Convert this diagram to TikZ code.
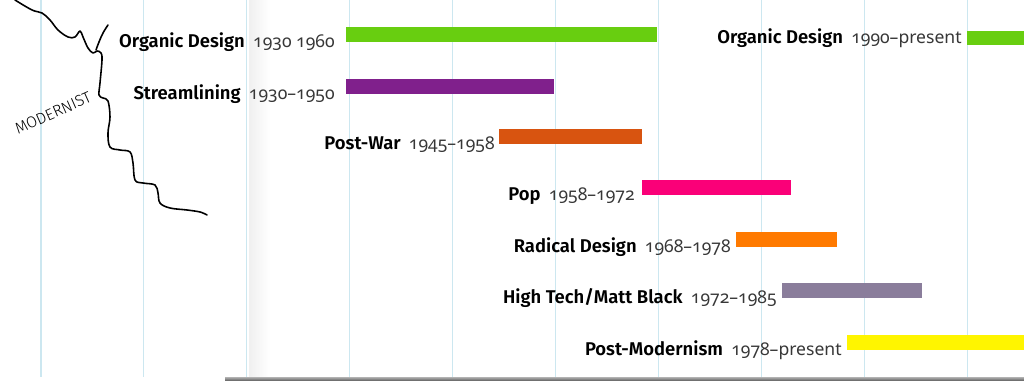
\documentclass[tikz,border=0pt]{standalone}
\usepackage{fontspec}
\setmainfont{Fira Sans}[BoldFont={Fira Sans SemiBold}]
\newfontfamily\datefont{Noto Sans}[Numbers=OldStyle]
\newfontfamily\handfont{Fira Sans Light}
\usepackage{xcolor}
\usetikzlibrary{positioning}

\definecolor{gridcol}{RGB}{204,231,240}
\definecolor{datecol}{RGB}{55,55,55}
\definecolor{organic}{RGB}{104,206,16}
\definecolor{streamline}{RGB}{128,32,140}
\definecolor{postwar}{RGB}{216,84,16}
\definecolor{pop}{RGB}{250,0,120}
\definecolor{radical}{RGB}{255,122,0}
\definecolor{hightech}{RGB}{138,125,155}
\definecolor{postmod}{RGB}{255,245,0}

\begin{document}
\begin{tikzpicture}[x=0.02cm, y=-0.02cm,
    bar/.style={anchor=west, inner sep=0pt, minimum height=0.3cm},
    lbl/.style={inner sep=0pt, anchor=base east, font=\fontsize{10.5}{12}\selectfont},
    grid/.style={gridcol, line width=0.6pt}]
    \useasboundingbox (0,0) rectangle (1024,381);
    \fill[white] (0,0) rectangle (1024,381);
    % page grid
    \shade[left color=black!6, right color=white] (249,0) rectangle (270,377);
    \foreach \i in {0,...,9}
        \draw[grid] ({41+102.9*\i},0) -- ++(0,377);
    \shade[top color=black!30, bottom color=black!65] (225,377) rectangle (1024,381);

    % periods
    \node[bar, fill=organic, minimum width=6.22cm] (b1) at (346,34.5) {};
    \node[lbl, left=0.22cm of b1.south west] (l1) {\textbf{Organic Design}\hspace{0.45em}{\datefont\fontsize{10}{12}\selectfont\color{datecol}1930 1960}};
    \node[bar, fill=streamline, minimum width=4.16cm] (b2) at (346,86.5) {};
    \node[lbl, left=0.22cm of b2.south west] (l2) {\textbf{Streamlining}\hspace{0.45em}{\datefont\fontsize{10}{12}\selectfont\color{datecol}1930–1950}};
    \node[bar, fill=postwar, minimum width=2.86cm] (b3) at (499,136.5) {};
    \node[lbl, left=0.08cm of b3.south west] (l3) {\textbf{Post-War}\hspace{0.45em}{\datefont\fontsize{10}{12}\selectfont\color{datecol}1945–1958}};
    \node[bar, fill=pop, minimum width=2.98cm] (b4) at (642,188) {};
    \node[lbl, left=0.14cm of b4.south west] (l4) {\textbf{Pop}\hspace{0.45em}{\datefont\fontsize{10}{12}\selectfont\color{datecol}1958–1972}};
    \node[bar, fill=radical, minimum width=2.02cm] (b5) at (736,239.5) {};
    \node[lbl, left=0.1cm of b5.south west] (l5) {\textbf{Radical Design}\hspace{0.45em}{\datefont\fontsize{10}{12}\selectfont\color{datecol}1968–1978}};
    \node[bar, fill=hightech, minimum width=2.80cm] (b6) at (782,290.5) {};
    \node[lbl, left=0.1cm of b6.south west] (l6) {\textbf{High Tech/Matt Black}\hspace{0.45em}{\datefont\fontsize{10}{12}\selectfont\color{datecol}1972–1985}};
    \node[bar, fill=postmod, minimum width=3.54cm] (b7) at (847,342.5) {};
    \node[lbl, left=0.1cm of b7.south west] (l7) {\textbf{Post-Modernism}\hspace{0.45em}{\datefont\fontsize{10}{12}\selectfont\color{datecol}1978–present}};
    \node[bar, fill=organic, minimum width=1.14cm, minimum height=0.28cm] (b8) at (967,38) {};
    \node[lbl, left=0.1cm of b8.west] (l8) {\textbf{Organic Design}\hspace{0.45em}{\datefont\fontsize{10}{12}\selectfont\color{datecol}1990–present}};

    % hand-drawn boundary
    \draw[line width=0.9pt, line cap=round, line join=round] plot[smooth, tension=0.6] coordinates {
        (15,0) (32,10) (42,13) (50,20) (58,30) (68,37) (75,37) (80,31) (83,37)
        (88,48) (93,53) (97,51) (101,53) (102,60) (100,83) (99,95) (103,98)
        (108,101) (110,117) (108,133) (110,147) (120,150) (130,152) (133,163)
        (135,180) (143,183) (155,185) (158,193) (160,203) (170,208) (187,210)
        (200,212) (207,215)};
    \draw[line width=0.9pt, line cap=round] plot[smooth, tension=0.6] coordinates {
        (96,50) (99,42) (103,33) (108,25)};
    \node[font=\handfont\fontsize{9}{10}\selectfont, rotate=24, inner sep=0pt] (modern) at (53,113) {MODERNIST};
\end{tikzpicture}
\end{document}
